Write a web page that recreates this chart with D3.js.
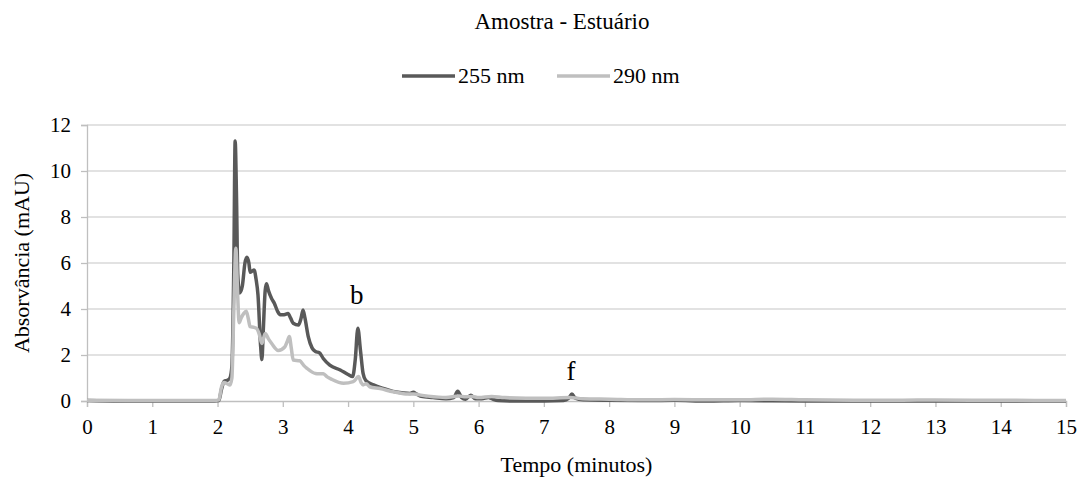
<!DOCTYPE html>
<html>
<head>
<meta charset="utf-8">
<script src="https://cdn.jsdelivr.net/npm/d3@7"></script>
<style>
  body { margin: 0; background: #fff; }
</style>
</head>
<body>
<svg id="chart" width="1084" height="481"></svg>
<script>
const title = "Amostra - Estuário";
const xLabel = "Tempo (minutos)";
const yLabel = "Absorvância (mAU)";
const seriesNames = ["255 nm", "290 nm"];
const xTicks = [0,1,2,3,4,5,6,7,8,9,10,11,12,13,14,15];
const yTicks = [0,2,4,6,8,10,12];

// 255 nm (time in minutes, absorbance in mAU)
const t255 = [0,0.5,1.0,1.5,1.95,2.02,2.06,2.10,2.15,2.19,2.22,2.25,2.27,2.29,2.31,2.34,2.38,2.42,2.45,2.48,2.50,2.53,2.56,2.59,2.62,2.66,2.68,2.70,2.73,2.75,2.78,2.83,2.87,2.92,2.96,3.02,3.08,3.12,3.16,3.24,3.28,3.31,3.34,3.39,3.45,3.50,3.56,3.62,3.72,3.88,4.00,4.07,4.11,4.15,4.19,4.23,4.27,4.39,4.54,4.69,4.85,4.95,5.00,5.05,5.12,5.30,5.50,5.62,5.68,5.74,5.80,5.88,5.95,6.05,6.15,6.20,6.30,6.60,7.00,7.30,7.38,7.43,7.48,7.60,8.00,8.50,9.00,9.50,10,11,12,13,14,15];
const v255 = [0.02,0.0,0.0,0.0,0.0,0.02,0.5,0.85,0.9,1.0,1.5,6.0,11.3,9.0,5.5,4.7,5.0,6.0,6.25,6.0,5.6,5.65,5.7,5.3,4.6,2.4,1.8,3.0,4.8,5.1,4.8,4.45,4.25,3.9,3.75,3.75,3.8,3.6,3.38,3.3,3.6,3.96,3.6,2.8,2.3,2.15,2.1,1.85,1.56,1.35,1.15,1.06,1.8,3.16,2.2,1.2,0.9,0.7,0.55,0.42,0.35,0.33,0.38,0.3,0.2,0.15,0.1,0.15,0.42,0.15,0.08,0.25,0.1,0.1,0.15,0.1,0.02,0.0,0.0,0.02,0.12,0.3,0.12,0.05,0.03,0.02,0.03,0.0,0.02,0.0,0.0,0.0,0.0,0.0];

// 290 nm
const t290 = [0,1.0,1.95,2.02,2.06,2.10,2.15,2.19,2.22,2.25,2.28,2.31,2.33,2.36,2.40,2.44,2.47,2.50,2.56,2.60,2.64,2.68,2.73,2.78,2.83,2.93,3.03,3.07,3.10,3.13,3.16,3.26,3.32,3.37,3.50,3.62,3.68,3.75,3.93,4.08,4.16,4.20,4.23,4.28,4.33,4.49,4.69,4.85,5.00,5.20,5.50,5.70,5.80,5.90,6.00,6.20,6.40,7.00,7.40,7.60,8.00,8.50,9.00,10,10.5,11,12,13,14,15];
const v290 = [0.03,0.02,0.02,0.05,0.6,0.8,0.75,0.7,1.0,4.0,6.64,4.5,3.4,3.6,3.8,3.9,3.6,3.23,3.2,3.15,2.9,2.5,2.94,2.7,2.5,2.2,2.35,2.6,2.8,2.3,1.78,1.75,1.55,1.42,1.2,1.18,1.05,0.94,0.77,0.84,1.06,0.8,0.7,0.75,0.62,0.54,0.4,0.32,0.3,0.22,0.15,0.22,0.18,0.2,0.15,0.2,0.15,0.12,0.15,0.1,0.08,0.05,0.06,0.05,0.08,0.05,0.03,0.04,0.03,0.02];

const annotations = [{label: "b", t: 4.15, v: 3.16}, {label: "f", t: 7.43, v: 0.3}];

const FONT = '"Liberation Serif"';
const svg = d3.select("#chart");
const margin = {left: 87, right: 18, top: 125, bottom: 80};
const W = 1084, H = 481;
const x = d3.scaleLinear().domain([0, 15]).range([margin.left, W - margin.right]);
const y = d3.scaleLinear().domain([0, 12]).range([H - margin.bottom, margin.top]);

const gridColor = "#d9d9d9";
const axisColor = "#bfbfbf";
const dark = "#595959";
const light = "#bfbfbf";

function txt(sel, size) {
  return sel.attr("font-family", null).style("font-family", FONT).style("font-size", size + "px").attr("fill", "#000");
}

// gridlines
svg.append("g")
  .selectAll("line").data(yTicks.filter(d => d > 0)).join("line")
  .attr("x1", x(0)).attr("x2", x(15))
  .attr("y1", d => y(d)).attr("y2", d => y(d))
  .attr("stroke", gridColor).attr("stroke-width", 1.3);

// y axis
const yAxis = svg.append("g").attr("transform", `translate(${x(0)},0)`)
  .call(d3.axisLeft(y).tickValues(yTicks).tickSize(6).tickPadding(10).tickFormat(d3.format("d")));
yAxis.attr("font-family", null).attr("font-size", null);
yAxis.select(".domain").attr("stroke", axisColor).attr("stroke-width", 1.3);
yAxis.selectAll(".tick line").attr("stroke", axisColor).attr("stroke-width", 1.3);
txt(yAxis.selectAll("text"), 21);

// x axis
const xAxis = svg.append("g").attr("transform", `translate(0,${y(0)})`)
  .call(d3.axisBottom(x).tickValues(xTicks).tickSize(6).tickPadding(12).tickFormat(d3.format("d")));
xAxis.attr("font-family", null).attr("font-size", null);
xAxis.select(".domain").attr("stroke", axisColor).attr("stroke-width", 1.3);
xAxis.selectAll(".tick line").attr("stroke", axisColor).attr("stroke-width", 1.3);
txt(xAxis.selectAll("text"), 21);

// lines
const line = d3.line().x(d => x(d[0])).y(d => y(d[1])).curve(d3.curveMonotoneX);
const d255 = t255.map((t, i) => [t, v255[i]]);
const d290 = t290.map((t, i) => [t, v290[i]]);
svg.append("path").datum(d255).attr("d", line)
  .attr("fill", "none").attr("stroke", dark).attr("stroke-width", 3.5).attr("stroke-linejoin", "round");
svg.append("path").datum(d290).attr("d", line)
  .attr("fill", "none").attr("stroke", light).attr("stroke-width", 3.5).attr("stroke-linejoin", "round");

// annotations
txt(svg.selectAll("text.ann").data(annotations).join("text").attr("class", "ann")
  .attr("x", d => x(d.t) - 1).attr("y", d => y(d.v) - (d.label === "b" ? 24 : 14))
  .attr("text-anchor", "middle"), 27)
  .text(d => d.label);

// title
txt(svg.append("text").attr("x", 562).attr("y", 29).attr("text-anchor", "middle"), 23).text(title);

// legend
const legend = svg.append("g");
const legItems = [{name: seriesNames[0], color: dark, x0: 402}, {name: seriesNames[1], color: light, x0: 557}];
legItems.forEach(it => {
  legend.append("line").attr("x1", it.x0).attr("x2", it.x0 + 53).attr("y1", 76).attr("y2", 76)
    .attr("stroke", it.color).attr("stroke-width", 3.5);
  txt(legend.append("text").attr("x", it.x0 + 56).attr("y", 83), 22).text(it.name);
});

// axis titles
txt(svg.append("text").attr("x", x(7.5)).attr("y", 472).attr("text-anchor", "middle"), 22).text(xLabel);
txt(svg.append("text").attr("transform", `translate(29,${(y(0) + y(12)) / 2}) rotate(-90)`)
  .attr("text-anchor", "middle"), 22).text(yLabel);
</script>
</body>
</html>
